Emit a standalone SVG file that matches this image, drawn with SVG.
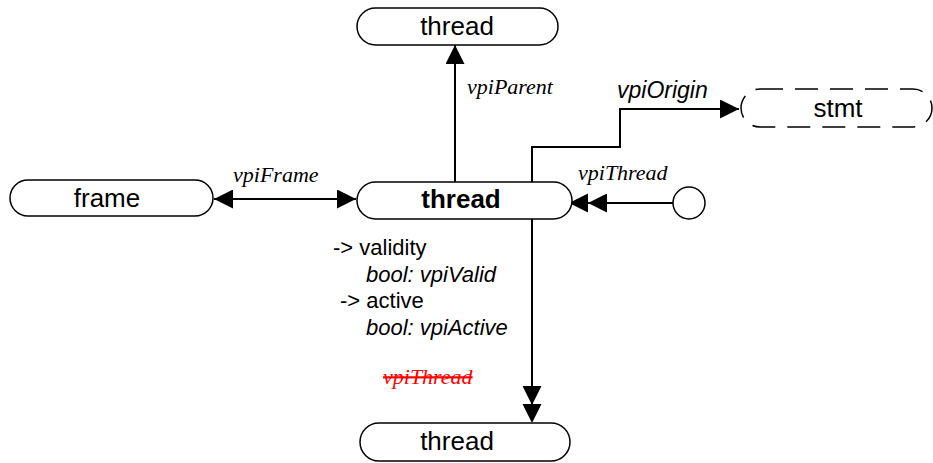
<svg xmlns="http://www.w3.org/2000/svg" width="933" height="463" viewBox="0 0 933 463">
<style>
.node{fill:#fff;stroke:#000;stroke-width:1.5}
.dash{fill:#fff;stroke:#000;stroke-width:1.5;stroke-dasharray:23 12}
.lbl{font-family:"Liberation Sans",Arial,sans-serif;font-size:26px;text-anchor:middle;fill:#000}
.conn{fill:none;stroke:#000;stroke-width:2}
.ser{font-family:"Liberation Serif","Times New Roman",serif;font-style:italic;font-size:22px;fill:#000}
.san{font-family:"Liberation Sans",Arial,sans-serif;font-size:22px;fill:#000}
.it{font-style:italic}
</style>
<defs>
<marker id="ah" viewBox="0 0 10 10" refX="10" refY="5" markerWidth="19" markerHeight="19" markerUnits="userSpaceOnUse" orient="auto-start-reverse">
<path d="M0,0 L10,5 L0,10 z" fill="#000"/>
</marker>
</defs>
<g id="connectors">
<line class="conn" x1="455" y1="182" x2="455" y2="45" marker-end="url(#ah)"/>
<line class="conn" x1="214" y1="199" x2="356" y2="199" marker-start="url(#ah)" marker-end="url(#ah)"/>
<polyline class="conn" points="532,182 532,147 620,147 620,109 739,109" marker-end="url(#ah)"/>
<line class="conn" x1="674" y1="203" x2="588" y2="203" marker-end="url(#ah)"/>
<path d="M588,193.5 L569,203 L588,212.5 z" fill="#000"/>
<line class="conn" x1="532" y1="219" x2="532" y2="405" marker-end="url(#ah)"/>
<path d="M522.5,404 L532,423 L541.5,404 z" fill="#000"/>
<text class="ser" x="467" y="94">vpiParent</text>
<text class="ser" x="233" y="182">vpiFrame</text>
<text class="san it" x="617" y="98" style="font-size:23px">vpiOrigin</text>
<text class="ser" x="578" y="180">vpiThread</text>
<text class="ser" x="383" y="384" style="fill:#f00;text-decoration:line-through">vpiThread</text>
</g>
<g id="thread_top">
<rect class="node" x="357" y="8" width="201" height="37" rx="18.5"/>
<text class="lbl" x="457" y="35">thread</text>
</g>
<g id="frame">
<rect class="node" x="10" y="180" width="203" height="36" rx="18"/>
<text class="lbl" x="107" y="207">frame</text>
</g>
<g id="thread_main">
<rect class="node" x="357" y="182" width="215" height="37" rx="18.5"/>
<text class="lbl" x="461" y="208" font-weight="bold">thread</text>
<text class="san" x="333" y="255">-&gt; validity</text>
<text class="san it" x="366" y="282">bool: vpiValid</text>
<text class="san" x="340" y="308">-&gt; active</text>
<text class="san it" x="366" y="335">bool: vpiActive</text>
</g>
<g id="stmt">
<rect class="dash" x="741" y="89" width="191" height="38" rx="19"/>
<text class="lbl" x="838" y="117">stmt</text>
</g>
<g id="source">
<circle class="node" cx="689" cy="203" r="16"/>
</g>
<g id="thread_bottom">
<rect class="node" x="360" y="423" width="210" height="38" rx="19"/>
<text class="lbl" x="457" y="450">thread</text>
</g>
</svg>
